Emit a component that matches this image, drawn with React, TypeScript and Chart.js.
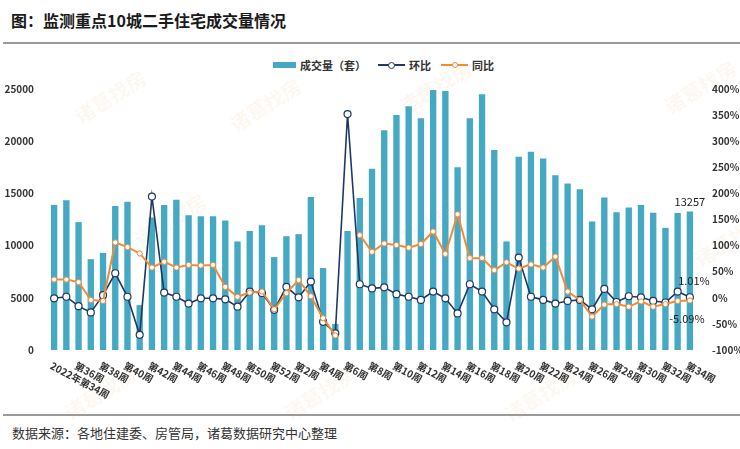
import { useEffect, useRef } from 'react';
import { Chart, registerables } from 'chart.js';

Chart.register(...registerables);

// x categories: 2022 W34 .. 2023 W34
const weeks = [
  '2022年第34周', '第35周', '第36周', '第37周', '第38周', '第39周', '第40周', '第41周', '第42周', '第43周',
  '第44周', '第45周', '第46周', '第47周', '第48周', '第49周', '第50周', '第51周', '第52周',
  '第1周', '第2周', '第3周', '第4周', '第5周', '第6周', '第7周', '第8周', '第9周', '第10周',
  '第11周', '第12周', '第13周', '第14周', '第15周', '第16周', '第17周', '第18周', '第19周', '第20周',
  '第21周', '第22周', '第23周', '第24周', '第25周', '第26周', '第27周', '第28周', '第29周', '第30周',
  '第31周', '第32周', '第33周', '第34周',
];

// 成交量（套）
const volumes = [
  13900, 14350, 12250, 8700, 9300, 13800, 14200, 4300, 12700, 13900,
  14400, 12900, 12800, 12800, 12400, 10400, 11400, 11950, 8900,
  10900, 11100, 14650, 7850, 2500, 11400, 14550, 17350, 21050, 22500,
  23350, 22200, 24900, 24800, 17500, 22200, 24500, 19150, 10400, 18500,
  19000, 18350, 16750, 15950, 15400, 12300, 14600, 13200, 13650, 13900,
  13150, 11700, 13120, 13257,
];

// 环比 (%)
const mom = [
  -1, 2, -16, -28, 5, 47, 2, -71, 194, 10,
  2, -11, -1, -1, -3, -17, 12, 9, -23,
  21, 1, 31, -46, -68, 352, 26, 18, 20, 7,
  2, -4, 12, -1, -30, 26, 12, -22, -47, 77,
  2, -4, -11, -6, -4, -22, 17, -8, 3, 1,
  -6, -9, 12, 1.01,
];

// 同比 (%)
const yoy = [
  35, 35, 30, -4, -6, 106, 97, 85, 58, 69,
  58, 63, 62, 63, 21, 2, 10, 12, -22,
  9, 34, 3, -39, -72, null, 120, 88, 104, 101,
  96, 103, 127, 84, 160, 76, 76, 53, 68, 56,
  64, 58, 79, 12, -4, -36, -13, -12, -17, -7,
  -17, -12, -6, -5.09,
];

const BAR = '#46A9C4';
const NAVY = '#1F3864';
const ORANGE = '#EE8C3A';
const FONT = '"Noto Sans CJK SC", "Noto Sans", sans-serif';

const watermarks = [
  [70, 82], [225, 90], [395, 72], [660, 72], [130, 205], [380, 215], [690, 225], [60, 378], [280, 378], [500, 380],
];

const overlayPlugin = {
  id: 'overlay',
  afterDraw(chart: any) {
    const { ctx, chartArea, scales } = chart;
    const x = scales.x;
    ctx.save();
    // rotated week labels, every other category
    ctx.font = `bold 10px ${FONT}`;
    ctx.fillStyle = '#333';
    ctx.textAlign = 'left';
    ctx.textBaseline = 'middle';
    weeks.forEach((w, i) => {
      if (i % 2) return;
      const px = x.getPixelForValue(i);
      ctx.save();
      ctx.translate(px - 3, chartArea.bottom + 15);
      ctx.rotate((28 * Math.PI) / 180);
      ctx.fillText(w, 0, 0);
      ctx.restore();
    });

    // end-of-series labels
    const last = volumes.length - 1;
    ctx.font = `11px ${FONT}`;
    ctx.fillStyle = '#222';
    ctx.textAlign = 'center';
    const bar = chart.getDatasetMeta(0).data[last];
    ctx.textBaseline = 'bottom';
    ctx.fillText(String(volumes[last]), bar.x, bar.y - 4);
    ctx.textBaseline = 'middle';
    const p1 = chart.getDatasetMeta(1).data[last];
    ctx.fillText(`${mom[last].toFixed(2)}%`, p1.x + 4, p1.y - 16);
    const p2 = chart.getDatasetMeta(2).data[last];
    ctx.fillText(`${(yoy[last] as number).toFixed(2)}%`, p2.x - 3, p2.y + 18);
    ctx.restore();
  },
};

function LegendLine({ color, r }: { color: string; r: number }) {
  return (
    <span style={{ position: 'relative', display: 'inline-block', width: 27, height: 10, marginRight: 4 }}>
      <span style={{ position: 'absolute', left: 0, right: 0, top: 4, height: 2, background: color }} />
      <span
        style={{
          position: 'absolute', left: 13.5 - r, top: 5 - r, width: r * 2 - 2, height: r * 2 - 2,
          borderRadius: '50%', border: `1px solid ${color}`, background: '#fff',
        }}
      />
    </span>
  );
}

export default function App() {
  const canvasRef = useRef<HTMLCanvasElement>(null);
  const chartRef = useRef<Chart | null>(null);

  useEffect(() => {
    if (!canvasRef.current) return;
    if (chartRef.current) chartRef.current.destroy();

    const tickFont = { family: FONT, size: 10, weight: 'bold' as const };

    chartRef.current = new Chart(canvasRef.current, {
      type: 'bar',
      data: {
        labels: weeks,
        datasets: [
          {
            type: 'bar',
            label: '成交量（套）',
            data: volumes,
            backgroundColor: BAR,
            barPercentage: 0.52,
            categoryPercentage: 1,
            yAxisID: 'y',
            order: 3,
          },
          {
            type: 'line',
            label: '环比',
            data: mom,
            borderColor: NAVY,
            borderWidth: 1.6,
            pointRadius: 3.5,
            pointBorderWidth: 1.2,
            pointBackgroundColor: '#fff',
            pointBorderColor: NAVY,
            tension: 0,
            yAxisID: 'y1',
            order: 2,
          },
          {
            type: 'line',
            label: '同比',
            data: yoy,
            borderColor: ORANGE,
            borderWidth: 2,
            pointRadius: 2.6,
            pointBorderWidth: 1,
            pointBackgroundColor: '#fff',
            pointBorderColor: ORANGE,
            tension: 0,
            spanGaps: false,
            yAxisID: 'y1',
            order: 1,
          },
        ],
      },
      options: {
        responsive: false,
        animation: false,
        layout: { padding: { top: 41, bottom: 60, left: 0, right: 0 } },
        plugins: {
          legend: { display: false },
          tooltip: { enabled: false },
        },
        scales: {
          x: { display: false, offset: true },
          y: {
            position: 'left',
            min: 0,
            max: 25000,
            ticks: { stepSize: 5000, font: tickFont, color: '#333', padding: 6, callback: (v: any) => String(v) },
            grid: { display: false },
            border: { display: false },
            afterFit: (s: any) => { s.width = 48; },
          },
          y1: {
            position: 'right',
            min: -100,
            max: 400,
            ticks: { stepSize: 50, font: tickFont, color: '#333', padding: 8, callback: (v: any) => `${v}%` },
            grid: { display: false },
            border: { display: false },
            afterFit: (s: any) => { s.width = 44; },
          },
        },
      },
      plugins: [overlayPlugin],
    } as any);

    return () => {
      if (chartRef.current) {
        chartRef.current.destroy();
        chartRef.current = null;
      }
    };
  }, []);

  return (
    <div style={{ position: 'absolute', left: 0, top: 0, width: 740, height: 449, background: '#fff', overflow: 'hidden', fontFamily: FONT, color: '#222' }}>
      {/* faint watermark */}
      {watermarks.map(([l, t], i) => (
        <div
          key={i}
          style={{
            position: 'absolute', left: l, top: t, fontSize: 20, fontWeight: 'bold',
            color: 'rgba(244, 176, 120, 0.1)', transform: 'rotate(-32deg)', whiteSpace: 'nowrap',
          }}
        >
          诸葛找房
        </div>
      ))}

      <div style={{ position: 'absolute', left: 11, top: 8, fontSize: 16, fontWeight: 'bold', color: '#1a1a1a' }}>
        图：监测重点10城二手住宅成交量情况
      </div>
      <div style={{ position: 'absolute', left: 3, right: 0, top: 42, height: 1.5, background: '#9a9a9a' }} />

      <div style={{ position: 'absolute', left: 273, top: 57, display: 'flex', alignItems: 'center', fontSize: 11, fontWeight: 'bold', color: '#333', whiteSpace: 'nowrap' }}>
        <span style={{ display: 'inline-block', width: 23, height: 6, background: BAR, marginRight: 4 }} />
        <span style={{ marginRight: 12 }}>成交量（套）</span>
        <LegendLine color={NAVY} r={3.5} />
        <span style={{ marginRight: 10 }}>环比</span>
        <LegendLine color={ORANGE} r={3} />
        <span>同比</span>
      </div>

      <canvas ref={canvasRef} width={740} height={362} style={{ position: 'absolute', left: 0, top: 48, width: 740, height: 362 }} />

      <div style={{ position: 'absolute', left: 3, right: 0, top: 414, height: 1.5, background: '#9a9a9a' }} />
      <div style={{ position: 'absolute', left: 12, top: 423, fontSize: 13, color: '#333' }}>
        数据来源：各地住建委、房管局，诸葛数据研究中心整理
      </div>
    </div>
  );
}
